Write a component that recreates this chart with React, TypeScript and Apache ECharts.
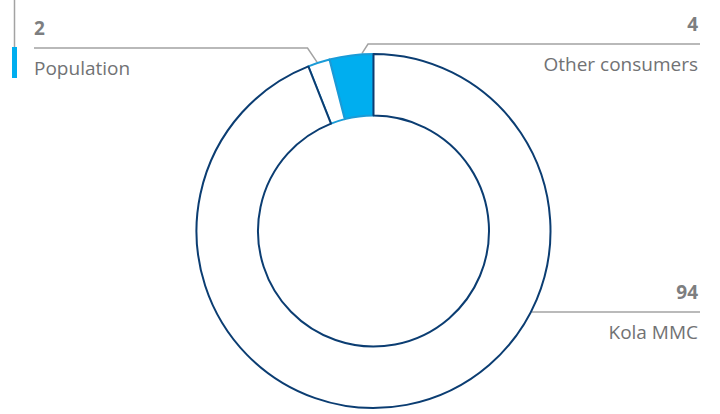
import { useEffect, useRef } from "react";
import * as echarts from "echarts";

// Slices in drawing order (counter-clockwise from 12 o'clock), Kola MMC last so its border sits on top
const categories = ["Other consumers", "Population", "Kola MMC"];
const shares = [4, 2, 94];

const sliceFills = ["#00aeef", "#ffffff", "#ffffff"];
const sliceBorders = ["#1a9bd7", "#1a9bd7", "#0b3d72"];

// ring geometry (px)
const CX = 373.5;
const CY = 231;
const R_IN = 115.5;
const R_OUT = 177;
const R_EDGE = 178;

const LEFT_X = 34;
const RIGHT_X = 700;

// where each label's leader starts and where its horizontal runs
const guides = [
  { angle: 356.3, bendDx: 6, lineY: 44, side: "right" },
  { angle: 341.5, bendDx: -9.5, lineY: 48, side: "left" },
  { angle: null, bendDx: 0, lineY: 312, side: "right" },
];

const GREY_LINE = "#a3a3a3";
const TEXT = "#717274";

function ringPoint(angleDeg: number) {
  const a = (angleDeg * Math.PI) / 180;
  return [CX + R_EDGE * Math.sin(a), CY - R_EDGE * Math.cos(a)];
}

export default function App() {
  const chartRef = useRef<HTMLDivElement>(null);

  useEffect(() => {
    if (!chartRef.current) return;
    document.body.style.margin = "0";
    const chart = echarts.init(chartRef.current, null, { renderer: "svg" });

    const option: echarts.EChartsOption = {
      animation: false,
      textStyle: { fontFamily: "Open Sans" },
      graphic: [
        {
          type: "line",
          shape: { x1: 14.5, y1: 0, x2: 14.5, y2: 47 },
          style: { stroke: GREY_LINE, lineWidth: 1.5 },
        },
        {
          type: "rect",
          shape: { x: 12, y: 47, width: 5, height: 31 },
          style: { fill: "#00aeef" },
        },
      ],
      series: [
        {
          type: "pie",
          center: [CX, CY],
          radius: [R_IN, R_OUT],
          startAngle: 90,
          clockwise: false,
          avoidLabelOverlap: false,
          silent: true,
          emphasis: { disabled: true },
          data: categories.map((name, i) => ({
            name,
            value: shares[i],
            itemStyle: {
              color: sliceFills[i],
              borderColor: sliceBorders[i],
              borderWidth: 2,
            },
          })),
          label: {
            show: true,
            position: "outside",
            formatter: (p: any) => `{num|${p.value}}\n{name|${p.name}}`,
            rich: {
              num: {
                fontSize: 19,
                fontWeight: "bold",
                color: "#7d7e80",
                lineHeight: 40,
                fontFamily: "Open Sans",
              },
              name: {
                fontSize: 19,
                color: TEXT,
                lineHeight: 40,
                fontFamily: "Open Sans",
              },
            },
          },
          labelLine: {
            show: true,
            lineStyle: { color: GREY_LINE, width: 1.5 },
          },
          labelLayout: (params: any) => {
            const g = guides[params.dataIndex];
            let start: number[];
            if (g.angle === null) {
              const dy = g.lineY - CY;
              start = [CX + Math.sqrt(R_EDGE * R_EDGE - dy * dy), g.lineY];
            } else {
              start = ringPoint(g.angle);
            }
            const bend = [start[0] + g.bendDx, g.lineY];
            const endX = g.side === "left" ? LEFT_X : RIGHT_X;
            return {
              x: g.side === "left" ? LEFT_X : RIGHT_X - 2,
              y: g.lineY,
              align: g.side === "left" ? "left" : "right",
              verticalAlign: "middle",
              labelLinePoints: [start, bend, [endX, g.lineY]],
            };
          },
        },
      ],
    };

    chart.setOption(option);
    return () => chart.dispose();
  }, []);

  return <div ref={chartRef} style={{ width: 720, height: 414 }} />;
}
